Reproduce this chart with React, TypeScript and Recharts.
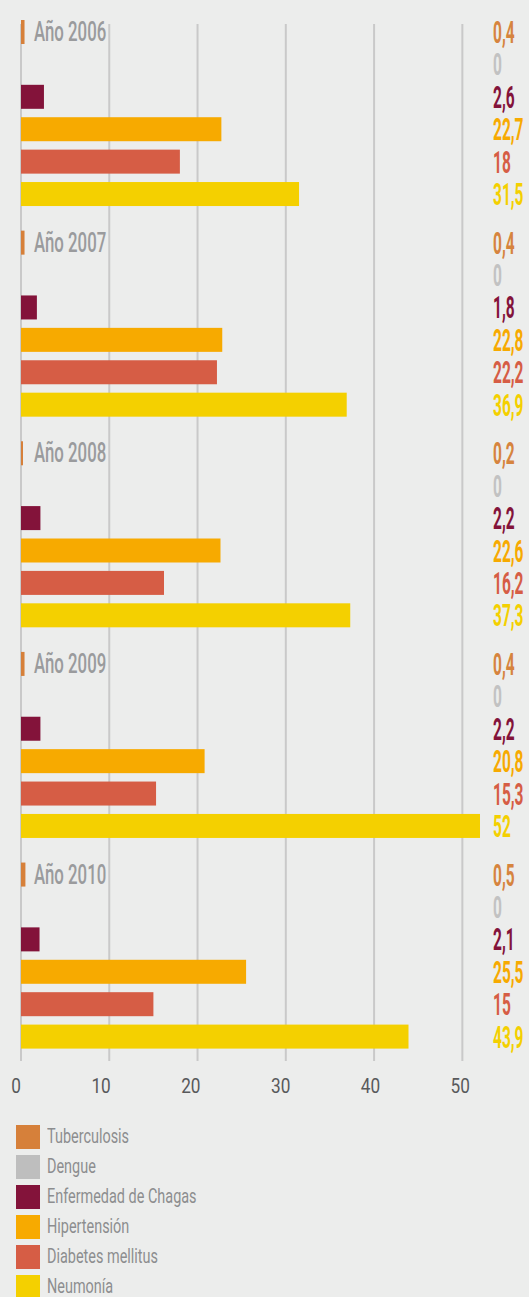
import React from 'react';
import { BarChart, Bar, XAxis, YAxis, CartesianGrid } from 'recharts';

const years = ['Año 2006', 'Año 2007', 'Año 2008', 'Año 2009', 'Año 2010'];
const seriesNames = ['Tuberculosis', 'Dengue', 'Enfermedad de Chagas', 'Hipertensión', 'Diabetes mellitus', 'Neumonía'];
const seriesColors = ['#D6803A', '#BEBEBE', '#83133A', '#F7AA00', '#D65D45', '#F4D000'];
const labelColors = ['#D6843E', '#C2C2C2', '#83133A', '#F7AA00', '#D65D45', '#F4D000'];

const tuberculosis = [0.4, 0.4, 0.2, 0.4, 0.5];
const dengue = [0, 0, 0, 0, 0];
const chagas = [2.6, 1.8, 2.2, 2.2, 2.1];
const hipertension = [22.7, 22.8, 22.6, 20.8, 25.5];
const diabetes = [18, 22.2, 16.2, 15.3, 15];
const neumonia = [31.5, 36.9, 37.3, 52, 43.9];

const xTicks = [0, 10, 20, 30, 40, 50];
const X_MAX = 52;

const seriesValues = [tuberculosis, dengue, chagas, hipertension, diabetes, neumonia];

type Row = {
  key: string;
  value: number | null;
  spacer?: boolean;
  color?: string;
  labelColor?: string;
  label?: string;
  year?: string;
};

const rows: Row[] = [];
let spacerId = 0;
years.forEach((yr, yi) => {
  seriesValues.forEach((vals, si) => {
    const v = vals[yi];
    rows.push({
      key: `${yr}-${si}`,
      value: v,
      color: seriesColors[si],
      labelColor: labelColors[si],
      label: String(v).replace('.', ','),
      year: si === 0 ? yr : undefined,
    });
    if (si < seriesValues.length - 1) rows.push({ key: `sp${spacerId++}`, value: null, spacer: true });
  });
  rows.push({ key: `sp${spacerId++}`, value: null, spacer: true });
  if (yi < years.length - 1) rows.push({ key: `sp${spacerId++}`, value: null, spacer: true });
});

const W = 529;
const CHART_H = 1111;
const MARGIN = { top: 24, right: 49, bottom: 0, left: 21 };
const LABEL_X = W - 36;
const FONT = 'Roboto, "DejaVu Sans Condensed", sans-serif';

function BarShape(props: any) {
  const { x, y, width, height, index } = props;
  const p: Row = props.payload && props.payload.key ? props.payload : rows[index];
  if (!p || p.spacer) return <g />;
  const cy = y + height / 2;
  return (
    <g>
      {width > 0 && <rect x={x} y={cy - 12} width={Math.max(width, 2)} height={24} fill={p.color} />}
      {p.year && (
        <text
          transform={`translate(${x + 13},${cy + 9}) scale(0.6,1)`}
          fontFamily={FONT}
          fontWeight={500}
          fontSize={28}
          fill="#9A9B9D"
        >
          {p.year}
        </text>
      )}
      <text
        transform={`translate(${LABEL_X},${cy + 11}) scale(0.5,1)`}
        fontFamily={FONT}
        fontWeight={700}
        fontSize={31}
        fill={p.labelColor}
      >
        {p.label}
      </text>
    </g>
  );
}

function Tick(props: any) {
  const { x, y, payload } = props;
  const v = payload.value;
  return (
    <text
      transform={`translate(${x + v * 0.15},${y + 24}) scale(0.82,1)`}
      textAnchor="end"
      fontFamily={FONT}
      fontSize={21}
      fill="#58595B"
    >
      {String(v)}
    </text>
  );
}

export default function App() {
  return (
    <div
      style={{
        position: 'absolute',
        left: 0,
        top: 0,
        width: W,
        height: 1297,
        background: '#ECEDEC',
        overflow: 'hidden',
      }}
    >
      <BarChart
        width={W}
        height={CHART_H}
        data={rows}
        layout="vertical"
        margin={MARGIN}
        barCategoryGap={0}
      >
        <CartesianGrid
          horizontal={false}
          stroke="#C9C9C9"
          strokeWidth={2}
          verticalCoordinatesGenerator={({ offset }: any) =>
            xTicks.map((v) => offset.left + (v / X_MAX) * offset.width)
          }
        />
        <XAxis
          type="number"
          domain={[0, X_MAX]}
          ticks={xTicks}
          axisLine={false}
          tickLine={false}
          height={50}
          tick={<Tick />}
          interval={0}
        />
        <YAxis type="category" dataKey="key" hide />
        <Bar dataKey="value" isAnimationActive={false} shape={<BarShape />} />
      </BarChart>
      <div style={{ position: 'absolute', left: 16, top: 1125 }}>
        {seriesNames.map((n, i) => (
          <div key={n} style={{ display: 'flex', alignItems: 'center', height: 24, marginBottom: 6 }}>
            <div style={{ width: 24, height: 24, background: seriesColors[i], flex: 'none' }} />
            <span
              style={{
                marginLeft: 7,
                fontFamily: FONT,
                fontSize: 19.5,
                color: '#8C8D8F',
                display: 'inline-block',
                transform: 'scaleX(0.74)',
                transformOrigin: 'left center',
                whiteSpace: 'nowrap',
                lineHeight: '24px',
              }}
            >
              {n}
            </span>
          </div>
        ))}
      </div>
    </div>
  );
}
